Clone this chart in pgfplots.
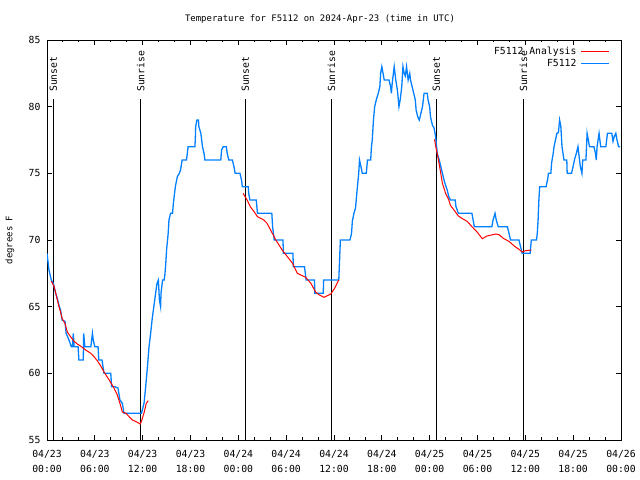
\documentclass[border=0pt]{standalone}
\usepackage{fontspec}
\setmainfont{DejaVu Sans Mono}
\usepackage{pgfplots}
\pgfplotsset{compat=1.18}
\definecolor{gblue}{RGB}{0,128,255}
\definecolor{gred}{RGB}{255,0,0}
\newcommand{\fs}{\fontsize{9}{14}\selectfont}
\newcommand{\ft}{\fontsize{9.8}{15}\selectfont}
\begin{document}
\begin{tikzpicture}
\useasboundingbox[fill=white] (0bp,0bp) rectangle (640bp,480bp);
\node[font=\fs] at (320bp,461bp) {Temperature for F5112 on 2024-Apr-23 (time in UTC)};
\node[font=\fs, rotate=90] at (10bp,240bp) {degrees F};
\begin{axis}[
  at={(47bp,40bp)}, anchor=south west,
  scale only axis, width=574bp, height=400bp,
  xmin=0, xmax=72, ymin=55, ymax=85,
  axis line style={line width=0.9bp},
  every tick/.style={black, line width=0.9bp},
  major tick length=5bp, minor tick length=2.5bp,
  tick pos=both,
  xtick={0,6,...,72},
  minor x tick num=2,
  xticklabels={{04/23\\00:00},{04/23\\06:00},{04/23\\12:00},{04/23\\18:00},{04/24\\00:00},{04/24\\06:00},{04/24\\12:00},{04/24\\18:00},{04/25\\00:00},{04/25\\06:00},{04/25\\12:00},{04/25\\18:00},{04/26\\00:00}},
  xticklabel style={font=\ft, align=center, yshift=-7bp},
  ytick={55,60,65,70,75,80,85},
  yticklabels={55,60,65,70,75,80,85},
  yticklabel style={font=\ft, xshift=-3bp},
  legend plot pos=right,
  legend cell align=right,
  legend image code/.code={\draw[#1] (0bp,0bp) -- (28bp,0bp);},
  legend style={at={(rel axis cs:0.981,0.985)}, anchor=north east, draw=none, fill=none, font=\ft, inner sep=0pt, nodes={inner sep=1.2bp}, column sep=3bp, row sep=0.5bp},
]
\addlegendimage{gred, line width=1bp}
\addlegendentry{F5112 Analysis}
\addlegendimage{gblue, line width=1.3bp}
\addlegendentry{F5112}

% sunrise / sunset lines
\addplot[black, line width=1.3bp, forget plot] coordinates {(0.8,55) (0.8,80.57)};
\addplot[black, line width=1.3bp, forget plot] coordinates {(11.75,55) (11.75,80.57)};
\addplot[black, line width=1.3bp, forget plot] coordinates {(24.87,55) (24.87,80.57)};
\addplot[black, line width=1.3bp, forget plot] coordinates {(35.7,55) (35.7,80.57)};
\addplot[black, line width=1.3bp, forget plot] coordinates {(48.85,55) (48.85,80.57)};
\addplot[black, line width=1.3bp, forget plot] coordinates {(59.77,55) (59.77,80.57)};
\node[rotate=90, anchor=west, inner sep=0pt, font=\ft] at (axis cs:0.8,81.1) {Sunset};
\node[rotate=90, anchor=west, inner sep=0pt, font=\ft] at (axis cs:11.75,81.1) {Sunrise};
\node[rotate=90, anchor=west, inner sep=0pt, font=\ft] at (axis cs:24.87,81.1) {Sunset};
\node[rotate=90, anchor=west, inner sep=0pt, font=\ft] at (axis cs:35.7,81.1) {Sunrise};
\node[rotate=90, anchor=west, inner sep=0pt, font=\ft] at (axis cs:48.85,81.1) {Sunset};
\node[rotate=90, anchor=west, inner sep=0pt, font=\ft] at (axis cs:59.77,81.1) {Sunrise};

% F5112 observations
\addplot[gblue, line width=1.3bp, forget plot] coordinates {
(0.0,69.0) (0.25,67.75) (0.54,67.0) (0.8,66.75) (1.09,66.0) (1.3,65.6) (1.5,65.1) (1.7,64.75) (1.9,64.0)
(2.26,63.9) (2.4,63.0) (2.76,62.5) (3.05,62.0) (3.2,62.0) (3.3,63.0) (3.4,62.0) (3.9,62.0) (4.0,61.0)
(4.55,61.0) (4.6,63.0) (4.75,62.0) (5.5,62.0) (5.7,63.0) (5.8,62.5) (6.0,62.0) (6.4,62.0) (6.5,61.0)
(6.9,61.0) (7.15,60.0) (8.0,60.0) (8.1,59.0) (8.5,59.0) (8.9,58.9) (9.15,58.0) (9.45,57.75) (9.66,57.0)
(11.85,57.0) (11.95,57.25) (12.17,57.75) (12.38,59.0) (12.6,60.5) (12.8,62.0) (13.0,63.0) (13.2,64.1)
(13.4,65.0) (13.6,65.9) (13.8,66.75) (13.97,67.0) (14.1,65.5) (14.25,65.0) (14.3,66.0) (14.5,67.0)
(14.7,67.0) (14.8,67.5) (14.9,68.25) (15.0,69.25) (15.2,70.5) (15.3,71.5) (15.5,72.0) (15.75,72.0)
(15.85,72.75) (16.0,73.5) (16.1,74.0) (16.35,74.75) (16.6,75.0) (16.75,75.25) (16.95,76.0) (17.5,76.0)
(17.6,76.5) (17.7,77.0) (18.55,77.0) (18.6,77.5) (18.65,78.5) (18.8,79.0) (19.0,79.0) (19.05,78.5)
(19.3,78.0) (19.5,77.0) (19.7,76.5) (19.8,76.0) (21.8,76.0) (21.9,76.75) (22.1,77.0) (22.5,77.0)
(22.6,76.5) (22.8,76.0) (23.25,76.0) (23.45,75.5) (23.6,75.0) (24.2,75.0) (24.4,74.5) (24.5,74.0)
(25.25,74.0) (25.3,73.5) (25.45,73.0) (26.25,73.0) (26.4,72.0) (28.2,72.0) (28.3,71.0) (28.5,70.0)
(29.6,70.0) (29.65,69.0) (30.85,69.0) (30.9,68.0) (32.3,68.0) (32.4,67.5) (32.5,67.0) (33.55,67.0)
(33.6,66.0) (34.65,66.0) (34.7,67.0) (36.6,67.0) (36.8,70.0) (38.0,70.0) (38.2,70.5) (38.3,71.4)
(38.5,72.0) (38.7,72.4) (38.9,73.75) (39.1,75.0) (39.2,76.0) (39.35,75.6) (39.55,75.0) (40.05,75.0)
(40.2,76.0) (40.6,76.0) (40.7,77.0) (40.8,77.5) (40.95,79.0) (41.1,80.0) (41.3,80.5) (41.55,81.0)
(41.75,81.5) (41.85,82.5) (42.0,83.0) (42.15,82.5) (42.3,82.0) (42.9,82.0) (43.1,81.5) (43.2,81.0)
(43.3,81.75) (43.45,82.5) (43.55,83.0) (43.75,82.0) (43.95,81.25) (44.15,80.0) (44.3,80.5) (44.5,81.5)
(44.65,83.0) (44.8,82.5) (44.95,82.3) (45.1,83.0) (45.3,82.0) (45.5,82.5) (45.6,82.0) (45.8,81.5)
(46.0,81.0) (46.2,80.5) (46.3,79.75) (46.5,79.25) (46.7,79.0) (46.9,79.5) (47.1,80.0) (47.3,81.0)
(47.7,81.0) (47.8,80.5) (48.0,80.0) (48.1,79.25) (48.35,78.6) (48.55,78.4) (48.75,77.75) (48.95,76.5)
(49.2,76.0) (49.4,75.5) (49.6,75.0) (49.8,74.5) (50.0,74.1) (50.2,73.75) (50.4,73.25) (50.6,73.0)
(51.2,73.0) (51.3,72.5) (51.6,72.0) (53.3,72.0) (53.6,71.0) (55.8,71.0) (55.95,71.5) (56.2,72.0)
(56.35,71.5) (56.6,71.0) (57.75,71.0) (58.15,70.0) (59.2,70.0) (59.4,69.5) (59.6,69.0) (60.6,69.0)
(60.75,70.0) (61.4,70.0) (61.5,70.5) (61.6,71.5) (61.7,73.0) (61.8,74.0) (62.6,74.0) (62.8,74.55)
(62.9,75.0) (63.2,75.0) (63.3,75.8) (63.5,76.5) (63.6,77.0) (63.8,77.55) (63.95,78.0) (64.15,78.05)
(64.3,79.0) (64.45,78.55) (64.6,77.0) (64.85,76.0) (65.2,76.0) (65.25,75.0) (65.8,75.0) (66.0,75.55)
(66.2,76.1) (66.4,76.5) (66.6,77.0) (66.7,76.5) (66.9,75.5) (67.1,75.0) (67.2,76.0) (67.6,76.0)
(67.75,78.0) (67.9,77.5) (68.05,77.0) (68.6,77.0) (68.8,76.5) (68.9,76.0) (69.0,77.0) (69.25,78.0)
(69.45,77.0) (70.1,77.0) (70.3,78.0) (70.85,78.0) (71.0,77.4) (71.15,77.75) (71.35,78.0) (71.5,77.5)
(71.7,77.0) (71.9,77.0)
};

% F5112 analysis
\addplot[gred, line width=1bp, forget plot] coordinates {
(0.54,66.9) (0.9,66.5) (1.1,66.0) (1.3,65.5) (1.5,65.0) (1.7,64.6) (1.9,64.1) (2.25,63.75) (2.55,63.1)
(2.95,62.75) (3.4,62.4) (3.8,62.2) (4.2,62.05) (4.85,61.75) (5.5,61.5) (5.9,61.25) (6.3,60.95)
(6.7,60.6) (7.15,60.1) (7.8,59.5) (8.4,58.9) (8.8,58.4) (9.15,57.75) (9.45,57.1) (9.9,57.0) (10.3,56.75)
(10.7,56.5) (11.1,56.4) (11.7,56.2) (11.9,56.5) (12.2,57.1) (12.45,57.75) (12.7,57.95)
};
\addplot[gred, line width=1bp, forget plot] coordinates {
(24.6,73.5) (25.1,73.0) (25.5,72.5) (26.0,72.1) (26.4,71.75) (27.2,71.5) (27.6,71.25) (28.05,70.75)
(28.7,70.0) (29.5,69.25) (30.15,68.75) (30.8,68.25) (31.4,67.5) (32.45,67.2) (33.1,66.75) (33.7,66.1)
(34.1,65.9) (34.75,65.7) (35.6,65.95) (36.1,66.4) (36.6,67.0)
};
\addplot[gred, line width=1bp, forget plot] coordinates {
(48.6,77.55) (48.85,76.75) (48.95,76.5) (49.25,75.5) (49.6,74.25) (50.0,73.5) (50.4,73.0) (50.6,72.6)
(51.05,72.25) (51.6,71.8) (52.1,71.6) (52.7,71.4) (53.3,71.0) (53.95,70.6) (54.6,70.1) (55.2,70.3)
(56.3,70.45) (56.7,70.4) (57.3,70.1) (57.95,69.9) (58.6,69.55) (59.2,69.3) (59.6,69.1) (60.05,69.2)
(60.75,69.25)
};
\end{axis}
\end{tikzpicture}
\end{document}
